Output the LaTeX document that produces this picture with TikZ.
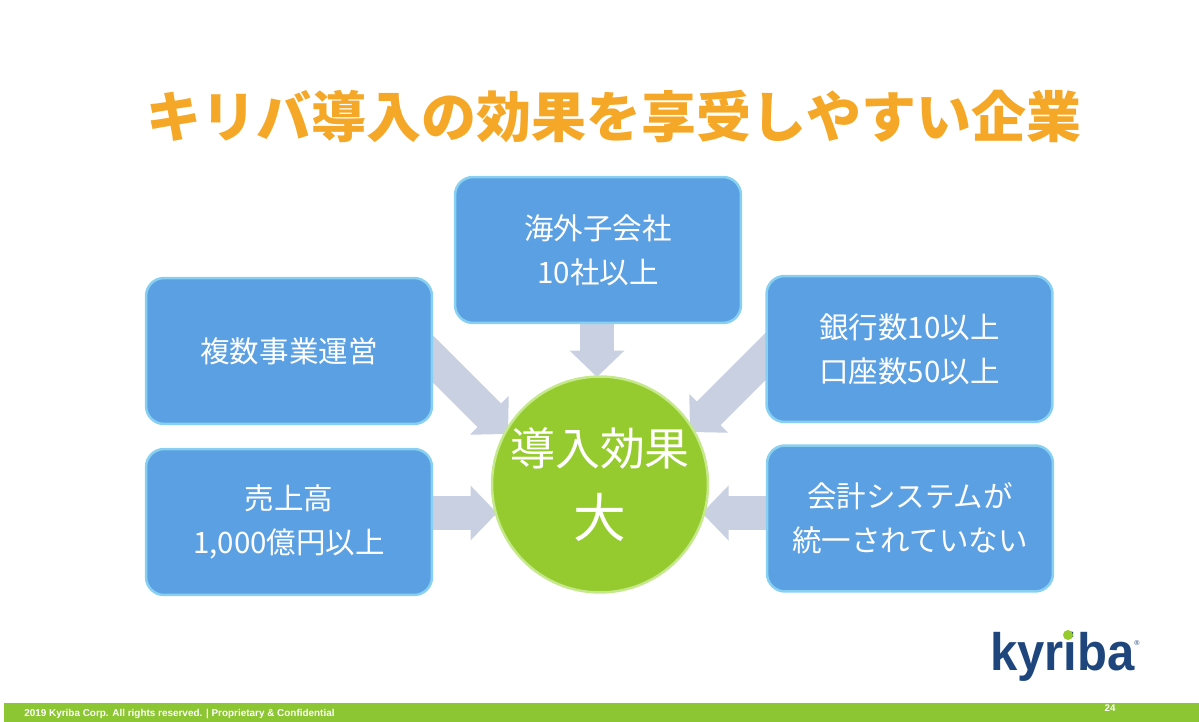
\documentclass[tikz,border=0pt]{standalone}
\usepackage{fontspec}
\setmainfont{Noto Sans CJK JP}
\newfontfamily\latinfont{Liberation Sans}
\usetikzlibrary{arrows.meta}
\usetikzlibrary{backgrounds}
\definecolor{boxblue}{RGB}{91,160,226}
\definecolor{boxedge}{RGB}{135,208,242}
\definecolor{flowgrey}{RGB}{200,208,226}
\definecolor{ballgreen}{RGB}{149,203,46}
\definecolor{balledge}{RGB}{198,232,140}
\definecolor{titleorange}{RGB}{245,168,40}
\definecolor{barorange}{RGB}{140,198,50}
\definecolor{logoblue}{RGB}{30,70,125}
\tikzset{
  infobox/.style={rectangle, rounded corners=0.36cm, draw=boxedge, line width=0.05cm, fill=boxblue, text=white,
    minimum width=5.72cm, minimum height=2.92cm, inner sep=0pt, align=center,
    font=\fontsize{16.8pt}{25pt}\selectfont},
  flowarrow/.style={draw=flowgrey, line width=0.67cm, -{Triangle[length=0.53cm, width=1.07cm]}}
}
\begin{document}
\begin{tikzpicture}[x=0.02cm, y=-0.02cm]
        \useasboundingbox (0,0) rectangle (1199,722);

        \node[text=titleorange, font=\fontsize{31.3pt}{36pt}\selectfont\bfseries, inner sep=0pt] (title) at (614,116) {キリバ導入の効果を享受しやすい企業};

        \node[infobox] (overseas) at (598,250) {海外子会社\\10社以上};
        \node[infobox] (business) at (289,351) {複数事業運営};
        \node[infobox] (banks) at (909.5,349) {銀行数10以上\\口座数50以上};
        \node[infobox] (sales) at (289,522) {売上高\\1,000億円以上};
        \node[infobox] (account) at (910,518.5) {会計システムが\\統一されていない};

        \node[circle, draw=balledge, line width=0.05cm, fill=ballgreen, text=white, minimum size=4.32cm, inner sep=0pt, align=center,
          font=\fontsize{25.6pt}{41pt}\selectfont] (effect) at (600,484.5) {導入効果\\{\fontsize{30pt}{41pt}\selectfont 大}};

        \coordinate (tiptop) at (597,377);
        \coordinate (tipleft) at (508,434);
        \coordinate (tipright) at (690,432);
        \coordinate (tipsales) at (497,513);
        \coordinate (tipaccount) at (702,513);
        \coordinate (startleft) at (400,326);
        \coordinate (startright) at (796,326);

        \begin{scope}[on background layer]
          \draw[flowarrow] (overseas.south -| tiptop) -- (tiptop);
          \draw[flowarrow] (startleft) -- (tipleft);
          \draw[flowarrow] (startright) -- (tipright);
          \draw[flowarrow] (sales.east |- tipsales) -- (tipsales);
          \draw[flowarrow] (account.west |- tipaccount) -- (tipaccount);
        \end{scope}

        \fill[barorange] (4,703) rectangle (1199,722);
        \node[text=white, anchor=west, inner sep=0pt, font=\latinfont\bfseries\fontsize{5.65pt}{8pt}\selectfont] (footer) at (24,714) {2019 Kyriba Corp. All rights reserved. | Proprietary \& Confidential};
        \node[text=white, inner sep=0pt, font=\latinfont\bfseries\fontsize{5.5pt}{7pt}\selectfont] (page) at (1110,708) {24};

        \node[text=logoblue, anchor=base west, inner sep=0pt, font=\latinfont\bfseries\fontsize{30pt}{36pt}\selectfont] (logo) at (990,670) {\scalebox{0.93}[1]{kyriba}};
        \node[circle, fill=ballgreen, minimum size=0.2cm, inner sep=0pt] (logodot) at (1068,635) {};
        \node[text=logoblue, inner sep=0pt, font=\latinfont\fontsize{4pt}{5pt}\selectfont] (logomark) at (1137,643) {®};
      \end{tikzpicture}
\end{document}
